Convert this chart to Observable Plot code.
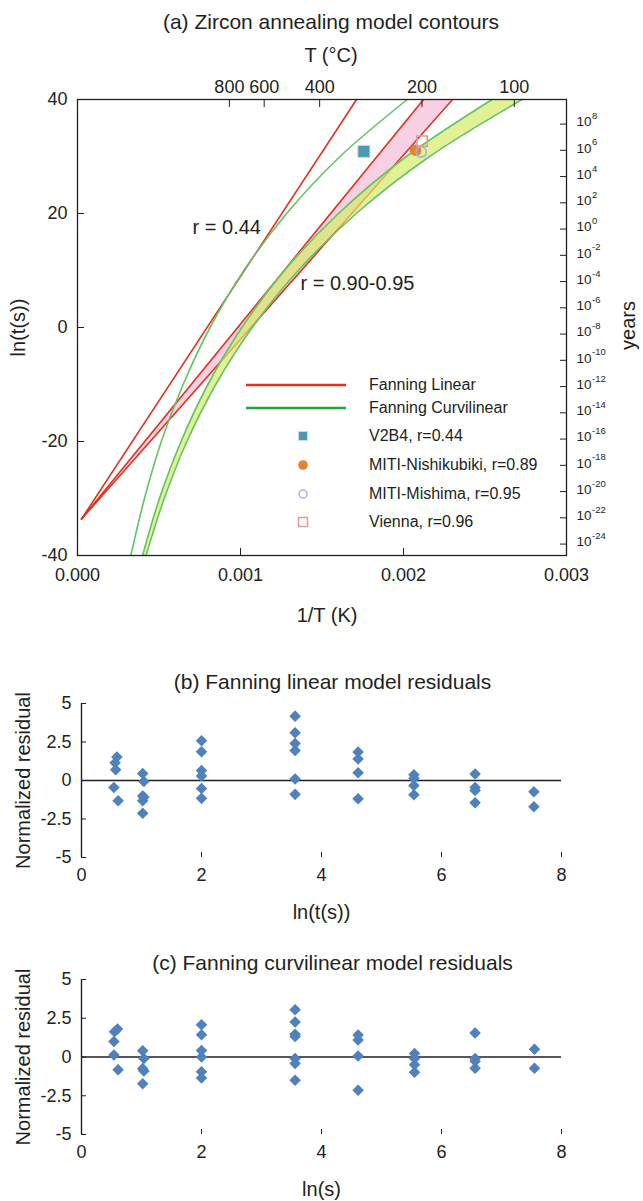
<!DOCTYPE html>
<html>
<head>
<meta charset="utf-8">
<script src="https://cdn.jsdelivr.net/npm/d3@7"></script>
<script src="https://cdn.jsdelivr.net/npm/@observablehq/plot@0.6"></script>
<style>
  body { margin: 0; background: #fff; }
  #wrap { position: relative; width: 643px; height: 1201px; overflow: hidden; background: #fff;
          font-family: "Liberation Sans", Arial, sans-serif; color: #231f20; }
  #wrap svg { display: block; }
  .lg { position: absolute; font-size: 16px; line-height: 18px; white-space: nowrap; transform: translateY(-50%); }
</style>
</head>
<body>
<div id="wrap"></div>
<script>
// ---------- Panel (a) data ----------
const lnTimeLevels = [-40, -30, -20, -10, 0, 10, 20, 30, 40];
// Fanning curvilinear contours (1/T in 1/K at each ln(t) level)
const curvR044InvT = [0.000327, 0.000411, 0.000514, 0.000648, 0.000813, 0.001021, 0.001283, 0.001611, 0.002023];
const curvR090InvT = [0.000399, 0.000503, 0.000635, 0.000800, 0.001008, 0.001270, 0.001601, 0.002018, 0.002544];
const curvR095InvT = [0.000420, 0.000532, 0.000671, 0.000848, 0.001072, 0.001354, 0.001710, 0.002160, 0.002728];
// Fanning linear contours: common fan point and ends at ln(t)=40
const fanInvT = 0.0000245;
const fanLnT = -33.6;
const linearEndLnT = 40;
const linearEndInvT = [0.001712, 0.002123, 0.002301]; // r = 0.44, 0.90, 0.95

const sampleNames = ["V2B4, r=0.44", "MITI-Nishikubiki, r=0.89", "MITI-Mishima, r=0.95", "Vienna, r=0.96"];
const sampleInvT = [0.001757, 0.002074, 0.002108, 0.002114];
const sampleLnT = [30.9, 31.1, 30.8, 32.7];

const contourLabels = ["r = 0.44", "r = 0.90-0.95"];
const contourLabelInvT = [0.000706, 0.001368];
const contourLabelLnT = [17.5, 7.7];

const invTTicks = [0, 0.001, 0.002, 0.003];
const lnTTicks = [-40, -20, 0, 20, 40];
const tempTicksC = [800, 600, 400, 200, 100];
const yearExponents = [8, 6, 4, 2, 0, -2, -4, -6, -8, -10, -12, -14, -16, -18, -20, -22, -24];
const SECONDS_PER_YEAR = 3.15576e7;

// ---------- Panels (b), (c) data ----------
const residTicksY = [-5, -2.5, 0, 2.5, 5];
const residTicksX = [0, 2, 4, 6, 8];
const linearResidX = [0.59, 0.56, 0.57, 0.54, 0.61, 1.02, 1.04, 1.02, 1.04, 1.02, 1.02, 2, 2, 2, 2, 2, 2,
  3.56, 3.56, 3.56, 3.56, 3.56, 3.56, 4.61, 4.61, 4.61, 4.61, 5.54, 5.54, 5.54, 5.54, 6.56, 6.56, 6.56, 6.56, 7.54, 7.54];
const linearResidY = [1.52, 1.15, 0.7, -0.46, -1.32, 0.46, -0.06, -1.0, -1.08, -1.32, -2.12, 2.58, 1.87, 0.65, 0.3, -0.52, -1.16,
  4.18, 3.1, 2.4, 1.95, 0.1, -0.9, 1.85, 1.4, 0.5, -1.18, 0.38, 0.15, -0.32, -0.92, 0.42, -0.45, -0.65, -1.45, -0.73, -1.7];
const curvResidX = [0.6, 0.55, 0.54, 0.54, 0.61, 1.02, 1.04, 1.02, 1.04, 1.02, 2, 2, 2, 2, 2, 2,
  3.56, 3.56, 3.56, 3.56, 3.56, 3.56, 3.56, 4.61, 4.61, 4.61, 4.61, 5.55, 5.55, 5.55, 5.55, 6.56, 6.56, 6.56, 6.56, 7.55, 7.55];
const curvResidY = [1.8, 1.63, 1.0, 0.13, -0.82, 0.4, -0.1, -0.75, -0.9, -1.72, 2.08, 1.43, 0.42, 0.0, -0.95, -1.36,
  3.05, 2.26, 1.47, 1.33, -0.1, -0.42, -1.5, 1.42, 1.1, 0.06, -2.15, 0.23, -0.1, -0.5, -0.99, 1.55, -0.1, -0.28, -0.72, 0.5, -0.72];

// ---------- styling ----------
const FONT = "Liberation Sans, Arial, sans-serif";
const INK = "#231f20";
const RED = "#e2311d";
const GREEN = "#62c462";
const PINK = "#f8d0e4";
const YELLOW = "#d6ea69";
const BLUE = "#4f81bd";

// ---------- build tables ----------
const redRows = linearEndInvT.flatMap((xe, i) => [
  {id: i, x: fanInvT, y: fanLnT}, {id: i, x: xe, y: linearEndLnT}
]);
const pinkRows = [
  {y: fanLnT, x1: fanInvT, x2: fanInvT},
  {y: linearEndLnT, x1: linearEndInvT[1], x2: linearEndInvT[2]}
];
const greenRows = [curvR044InvT, curvR090InvT, curvR095InvT].flatMap((arr, k) =>
  arr.map((x, i) => ({id: k, x, y: lnTimeLevels[i]})));
const bandRows = lnTimeLevels.map((y, i) => ({y, x1: curvR090InvT[i], x2: curvR095InvT[i]}));
const samples = sampleNames.map((name, i) => ({name, x: sampleInvT[i], y: sampleLnT[i]}));
const annots = contourLabels.map((t, i) => ({t, x: contourLabelInvT[i], y: contourLabelLnT[i]}));
const yearPos = e => Math.log(SECONDS_PER_YEAR) + e * Math.LN10;

const wrap = document.getElementById("wrap");
const label = (txt, o) => Plot.text([txt], {textAnchor: "middle", lineAnchor: "middle", fill: INK, ...o});

const plotA = Plot.plot({
  width: 643, height: 640,
  marginTop: 99, marginLeft: 77, marginRight: 77, marginBottom: 85,
  x: {domain: [0, 0.003], axis: null},
  y: {domain: [-40, 40], axis: null},
  style: {fontFamily: FONT, fontSize: "18px", color: INK, background: "transparent", overflow: "visible"},
  marks: [
    Plot.areaX(pinkRows, {y: "y", x1: "x1", x2: "x2", fill: PINK}),
    Plot.line(redRows, {x: "x", y: "y", z: "id", stroke: RED, strokeWidth: 1.6}),
    Plot.areaX(bandRows, {y: "y", x1: "x1", x2: "x2", fill: YELLOW, fillOpacity: 0.7, curve: "catmull-rom"}),
    Plot.line(greenRows, {x: "x", y: "y", z: "id", stroke: GREEN, strokeWidth: 1.6, curve: "catmull-rom"}),
    Plot.dot(samples.slice(0, 1), {x: "x", y: "y", symbol: "square", r: 6.8, fill: "#4e98b0", stroke: "#c5dde6", strokeWidth: 1}),
    Plot.dot(samples.slice(1, 2), {x: "x", y: "y", symbol: "circle", r: 5.8, fill: "#e0842f"}),
    Plot.dot(samples.slice(2, 3), {x: "x", y: "y", symbol: "circle", r: 5.2, fill: "none", stroke: "#9fb4e3", strokeWidth: 1.6}),
    Plot.dot(samples.slice(3, 4), {x: "x", y: "y", symbol: "square", r: 5.8, fill: "none", stroke: "#e29a9f", strokeWidth: 1.6}),
    Plot.text(annots, {x: "x", y: "y", text: "t", textAnchor: "start", fontSize: 20, fill: INK}),
    Plot.frame({stroke: INK, strokeWidth: 1.3}),
    // axes: inward ticks + labels
    Plot.axisX(invTTicks, {anchor: "bottom", tickSize: -7, tickFormat: () => "", label: null, stroke: INK}),
    Plot.axisX(invTTicks, {anchor: "bottom", tickSize: 0, tickPadding: 13, tickFormat: d3.format(".3f"), label: null, fontSize: 18, fill: INK}),
    Plot.axisX(tempTicksC.map(T => 1 / (T + 273.15)), {anchor: "top", tickSize: -7, tickFormat: () => "", label: null, stroke: INK}),
    Plot.axisX(tempTicksC.map(T => 1 / (T + 273.15)), {anchor: "top", tickSize: 0, tickPadding: 7,
      tickFormat: d => String(Math.round(1 / d - 273.15)), label: null, fontSize: 18, fill: INK}),
    Plot.axisY(lnTTicks, {anchor: "left", tickSize: -7, tickFormat: () => "", label: null, stroke: INK}),
    Plot.axisY(lnTTicks, {anchor: "left", tickSize: 0, tickPadding: 10, tickFormat: d => String(d), label: null, fontSize: 18, fill: INK}),
    Plot.axisY(yearExponents.map(yearPos), {anchor: "right", tickSize: -7, tickFormat: () => "", label: null, stroke: INK}),
    Plot.text(yearExponents, {y: yearPos, text: () => "10", frameAnchor: "right", dx: 10, dy: -2, textAnchor: "start", lineAnchor: "middle", fontSize: 13.5, fill: INK}),
    Plot.text(yearExponents, {y: yearPos, text: e => String(e), frameAnchor: "right", dx: 25.5, dy: -8, textAnchor: "start", lineAnchor: "middle", fontSize: 9.5, fill: INK}),
    // titles and axis labels
    label("(a) Zircon annealing model contours", {frameAnchor: "top", dy: -77, dx: 9, fontSize: 21}),
    label("T (°C)", {frameAnchor: "top", dy: -44, dx: 9, fontSize: 20}),
    label("1/T (K)", {frameAnchor: "bottom", dy: 60, dx: 5, fontSize: 20}),
    label("ln(t(s))", {frameAnchor: "left", dx: -59, rotate: -90, fontSize: 20}),
    label("years", {frameAnchor: "right", dx: 62, dy: -2, rotate: -90, fontSize: 20})
  ]
});
wrap.appendChild(plotA);

function residualPlot(xs, ys, title, xLabel, height, mTop, mBottom, titleDy) {
  const pts = xs.map((x, i) => ({x, y: ys[i]}));
  return Plot.plot({
    width: 643, height,
    marginTop: mTop, marginBottom: mBottom, marginLeft: 81, marginRight: 82,
    x: {domain: [0, 8], axis: null},
    y: {domain: [-5, 5], axis: null},
    style: {fontFamily: FONT, fontSize: "18px", color: INK, background: "transparent", overflow: "visible"},
    marks: [
      Plot.ruleY([0], {stroke: INK, strokeWidth: 1.4}),
      Plot.ruleX([0], {stroke: INK, strokeWidth: 1.4}),
      Plot.axisY(residTicksY, {anchor: "left", tickSize: -5, tickFormat: () => "", label: null, stroke: INK}),
      Plot.axisY(residTicksY, {anchor: "left", tickSize: 0, tickPadding: 10, tickFormat: d => String(d), label: null, fontSize: 18, fill: INK}),
      Plot.axisX(residTicksX.slice(1), {anchor: "bottom", tickSize: -5, tickFormat: () => "", label: null, stroke: INK}),
      Plot.axisX(residTicksX, {anchor: "bottom", tickSize: 0, tickPadding: 11, tickFormat: d => String(d), label: null, fontSize: 18, fill: INK}),
      Plot.dot(pts, {x: "x", y: "y", symbol: "diamond2", r: 5.2, fill: BLUE}),
      label(title, {frameAnchor: "top", dy: titleDy, dx: 11, fontSize: 21}),
      label(xLabel, {frameAnchor: "bottom", dy: 55, fontSize: 20}),
      label("Normalized residual", {frameAnchor: "left", dx: -58, rotate: -90, fontSize: 20})
    ]
  });
}

wrap.appendChild(residualPlot(linearResidX, linearResidY, "(b) Fanning linear model residuals", "ln(t(s))", 280, 63, 63, -21));
wrap.appendChild(residualPlot(curvResidX, curvResidY, "(c) Fanning curvilinear model residuals", "ln(s)", 281, 59, 67, -16));

// ---------- legend for panel (a) (HTML overlay) ----------
const legendRows = [
  {label: "Fanning Linear", kind: "line", color: RED, y: 385},
  {label: "Fanning Curvilinear", kind: "line", color: "#22a832", y: 408},
  {label: sampleNames[0], kind: "sq", y: 436},
  {label: sampleNames[1], kind: "dot", y: 465},
  {label: sampleNames[2], kind: "ring", y: 494},
  {label: sampleNames[3], kind: "osq", y: 522}
];
const ns = "http://www.w3.org/2000/svg";
const lsvg = document.createElementNS(ns, "svg");
lsvg.setAttribute("width", 643); lsvg.setAttribute("height", 640);
lsvg.style.position = "absolute"; lsvg.style.left = "0"; lsvg.style.top = "0"; lsvg.style.pointerEvents = "none";
for (const r of legendRows) {
  let el;
  if (r.kind === "line") {
    el = document.createElementNS(ns, "line");
    el.setAttribute("x1", 246); el.setAttribute("x2", 346); el.setAttribute("y1", r.y); el.setAttribute("y2", r.y);
    el.setAttribute("stroke", r.color); el.setAttribute("stroke-width", 2.4);
  } else if (r.kind === "sq" || r.kind === "osq") {
    el = document.createElementNS(ns, "rect");
    el.setAttribute("x", 298.5); el.setAttribute("y", r.y - 4.5); el.setAttribute("width", 9); el.setAttribute("height", 9);
    if (r.kind === "sq") { el.setAttribute("fill", "#4e98b0"); el.setAttribute("stroke", "#c5dde6"); }
    else { el.setAttribute("fill", "none"); el.setAttribute("stroke", "#e29a9f"); el.setAttribute("stroke-width", 1.5); }
  } else {
    el = document.createElementNS(ns, "circle");
    el.setAttribute("cx", 303); el.setAttribute("cy", r.y); el.setAttribute("r", r.kind === "dot" ? 4.8 : 4);
    if (r.kind === "dot") el.setAttribute("fill", "#e0842f");
    else { el.setAttribute("fill", "none"); el.setAttribute("stroke", "#9fb4e3"); el.setAttribute("stroke-width", 1.5); }
  }
  lsvg.appendChild(el);
  const t = document.createElement("div");
  t.className = "lg"; t.textContent = r.label;
  t.style.left = "369px"; t.style.top = r.y + "px";
  wrap.appendChild(t);
}
wrap.appendChild(lsvg);
</script>
</body>
</html>
